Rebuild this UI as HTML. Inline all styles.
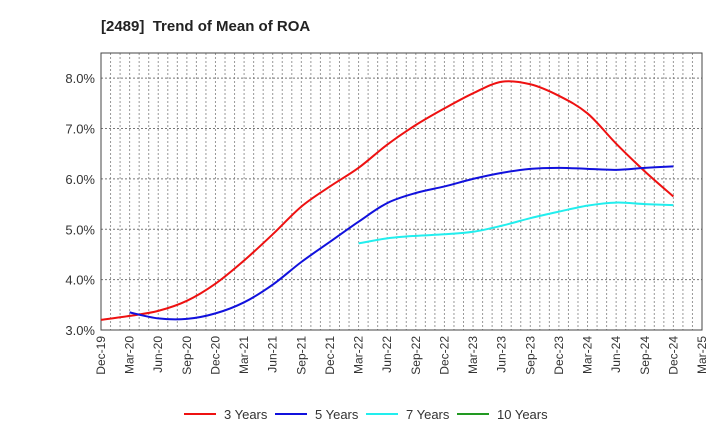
<!DOCTYPE html>
<html><head><meta charset="utf-8"><style>
body{margin:0;background:#fff;font-family:"Liberation Sans",Arial,sans-serif}
svg text{font-family:"Liberation Sans",Arial,sans-serif}
</style></head><body>
<svg id="chart" width="720" height="440" xmlns="http://www.w3.org/2000/svg">
<text x="101" y="31" font-size="15" font-weight="bold" fill="#222">[2489] &#160;Trend of Mean of ROA</text>
<g id="grid"></g><g id="axes"></g><g id="series"></g><g id="legend"></g>
</svg>
<script>
const xLabels=["Dec-19","Mar-20","Jun-20","Sep-20","Dec-20","Mar-21","Jun-21","Sep-21","Dec-21","Mar-22","Jun-22","Sep-22","Dec-22","Mar-23","Jun-23","Sep-23","Dec-23","Mar-24","Jun-24","Sep-24","Dec-24","Mar-25"];
const yTicks=[3,4,5,6,7,8];
const years3=[3.2,3.28,3.38,3.58,3.92,4.38,4.9,5.45,5.85,6.22,6.68,7.07,7.4,7.7,7.93,7.88,7.65,7.3,6.7,6.15,5.65];
const years5=[null,3.35,3.23,3.22,3.33,3.55,3.9,4.35,4.75,5.15,5.52,5.72,5.85,6.0,6.12,6.2,6.22,6.2,6.18,6.22,6.25];
const years7=[null,null,null,null,null,null,null,null,null,4.72,4.82,4.87,4.9,4.95,5.07,5.22,5.35,5.47,5.53,5.5,5.48];
const years10=[];
const L=101,R=702,T=53,B=330,yMin=3,yMax=8.5;
const NS="http://www.w3.org/2000/svg";
const qx=i=>L+(R-L)*i/(xLabels.length-1);
const mx=m=>L+(R-L)*m/((xLabels.length-1)*3);
const y=v=>B-(v-yMin)/(yMax-yMin)*(B-T);
function mk(tag,attrs,parent){const e=document.createElementNS(NS,tag);for(const k in attrs)e.setAttribute(k,attrs[k]);parent.appendChild(e);return e;}
const grid=document.getElementById('grid'),axes=document.getElementById('axes'),ser=document.getElementById('series'),leg=document.getElementById('legend');
for(let m=1;m<(xLabels.length-1)*3;m++){
 const l=mk('line',{x1:mx(m),x2:mx(m),y1:T,y2:B,stroke:'#999','stroke-dasharray':'2,2','stroke-width':1},grid);
 
 
}
yTicks.forEach(v=>{
 if(v>yMin){const l=mk('line',{x1:L,x2:R,y1:y(v),y2:y(v),stroke:'#777','stroke-dasharray':'2,2','stroke-width':1},grid);
 
 }
 const t=mk('text',{x:L-6,y:y(v)+5,'text-anchor':'end','font-size':13,fill:'#333'},axes);
 t.textContent=v.toFixed(1)+'%';
 
 
});
const fr=mk('rect',{x:L,y:T,width:R-L,height:B-T,fill:'none',stroke:'#444','stroke-width':1},axes);


xLabels.forEach((s,i)=>{
 const t=mk('text',{x:0,y:0,'text-anchor':'end','font-size':12,fill:'#333',transform:`translate(${qx(i)+4},${B+6}) rotate(-90)`},axes);
 t.textContent=s;
 
 
});
function smooth(pts){let d=`M${pts[0][0]},${pts[0][1]}`;for(let i=0;i<pts.length-1;i++){const p0=pts[i-1]||pts[i],p1=pts[i],p2=pts[i+1],p3=pts[i+2]||p2;
 d+=` C${p1[0]+(p2[0]-p0[0])/6},${p1[1]+(p2[1]-p0[1])/6} ${p2[0]-(p3[0]-p1[0])/6},${p2[1]-(p3[1]-p1[1])/6} ${p2[0]},${p2[1]}`;}return d;}
const seriesList=[[years3,'#ee1111','3 Years','series-3-years'],[years5,'#1111dd','5 Years','series-5-years'],[years7,'#22eeee','7 Years','series-7-years'],[years10,'#229922','10 Years','series-10-years']];
seriesList.forEach(([arr,c,name,dn])=>{
 const pts=[];arr.forEach((v,i)=>{if(v!=null)pts.push([qx(i),y(v)]);});
 if(pts.length>1){const p=mk('path',{d:smooth(pts),fill:'none',stroke:c,'stroke-width':2},ser);
 
 }
});
const lx=[184,275,366,457];
seriesList.forEach(([a,c,name],i)=>{
 const g=mk('g',{},leg);
 
 
 mk('line',{x1:lx[i],x2:lx[i]+32,y1:414,y2:414,stroke:c,'stroke-width':2},g);
 const t=mk('text',{x:lx[i]+40,y:419,'font-size':13,fill:'#333'},g);t.textContent=name;
});
</script>
</body></html>
